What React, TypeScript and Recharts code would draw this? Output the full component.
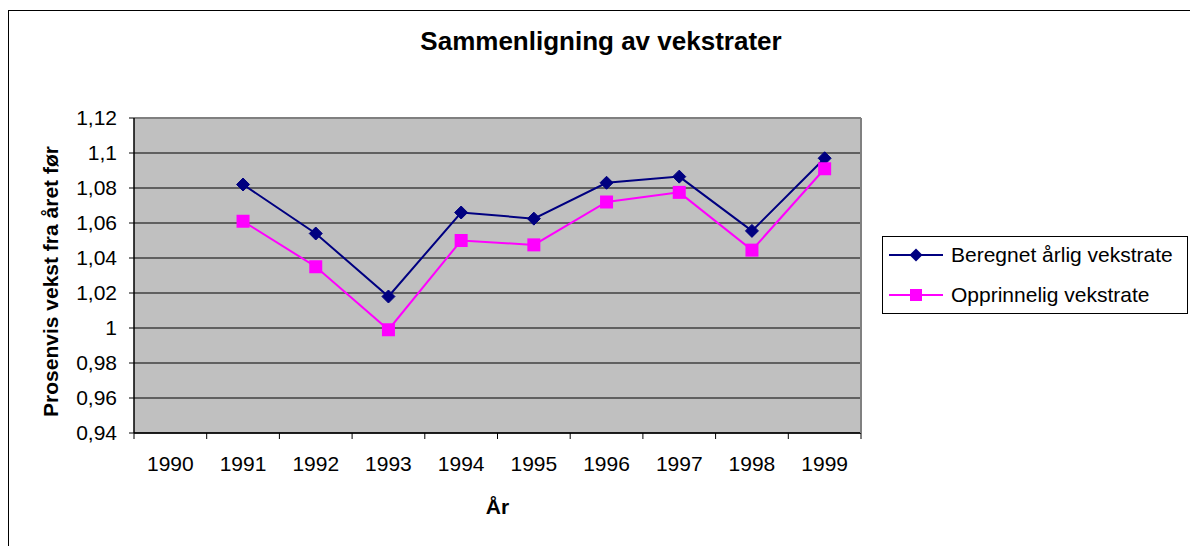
import React from 'react';
import { LineChart, Line, XAxis, YAxis, CartesianGrid, Legend, ReferenceLine } from 'recharts';

const years = ['1990', '1991', '1992', '1993', '1994', '1995', '1996', '1997', '1998', '1999'];
const beregnet: (number | null)[] = [null, 1.082, 1.054, 1.018, 1.066, 1.0625, 1.083, 1.0865, 1.0555, 1.097];
const opprinnelig: (number | null)[] = [null, 1.061, 1.035, 0.999, 1.05, 1.0475, 1.072, 1.0775, 1.0445, 1.091];
const yTicks = [0.94, 0.96, 0.98, 1.0, 1.02, 1.04, 1.06, 1.08, 1.1, 1.12];
const seriesNames = ['Beregnet årlig vekstrate', 'Opprinnelig vekstrate'];
const titleText = 'Sammenligning av vekstrater';
const yLabelText = 'Prosenvis vekst fra året før';
const xLabelText = 'År';

const data = years.map((y, i) => ({ year: y, beregnet: beregnet[i], opprinnelig: opprinnelig[i] }));

const FONT = 'Arial, "Liberation Sans", Helvetica, sans-serif';
const BLUE = '#000080';
const PINK = '#FF00FF';
const X_TICK_SIZE = 5;
const X_TICK_MARGIN = 18;

const fmt = (v: number) => String(parseFloat(v.toFixed(2))).replace('.', ',');

const diamondPath = (cx: number, cy: number, r: number) =>
  `M${cx},${cy - r}L${cx + r},${cy}L${cx},${cy + r}L${cx - r},${cy}Z`;

const DiamondDot = (props: any) => {
  const { cx, cy, index } = props;
  if (cx == null || cy == null || isNaN(cx) || isNaN(cy)) return <g key={`bd-${index}`} />;
  return <path key={`bd-${index}`} d={diamondPath(cx, cy, 6.5)} fill={BLUE} stroke={BLUE} strokeWidth={1} />;
};

const SquareDot = (props: any) => {
  const { cx, cy, index } = props;
  if (cx == null || cy == null || isNaN(cx) || isNaN(cy)) return <g key={`pd-${index}`} />;
  return <rect key={`pd-${index}`} x={cx - 6.5} y={cy - 6.5} width={13} height={13} fill={PINK} stroke={PINK} strokeWidth={0} />;
};

const XTick = (props: any) => {
  const { x, y, payload, index } = props;
  const half = payload && typeof payload.offset === 'number' ? payload.offset : 0;
  const axisY = y - X_TICK_SIZE - X_TICK_MARGIN;
  const isLast = index === years.length - 1;
  return (
    <g>
      <line x1={x - half} x2={x - half} y1={axisY} y2={axisY + 6} stroke="#000" strokeWidth={1} />
      {isLast && <line x1={x + half} x2={x + half} y1={axisY} y2={axisY + 6} stroke="#000" strokeWidth={1} />}
      <text x={x} y={y} dy="0.71em" textAnchor="middle" fontFamily={FONT} fontSize={21} fill="#000">
        {payload.value}
      </text>
    </g>
  );
};

const renderLegend = (props: any) => {
  const payload = props.payload || [];
  return (
    <div
      style={{
        position: 'relative',
        width: 304,
        height: 76,
        border: '1px solid #000',
        background: '#fff',
        fontFamily: FONT,
        fontSize: 21,
        color: '#000',
      }}
    >
      {payload.map((entry: any, i: number) => (
        <div
          key={entry.value}
          style={{ position: 'absolute', left: 0, top: i === 0 ? 3 : 43, height: 30, display: 'flex', alignItems: 'center', whiteSpace: 'nowrap' }}
        >
          <svg width={68} height={30} style={{ display: 'block' }}>
            <line x1={6} x2={60} y1={15} y2={15} stroke={entry.color} strokeWidth={2} />
            {i === 0 ? (
              <path d={diamondPath(33, 15, 6.5)} fill={entry.color} />
            ) : (
              <rect x={27} y={9} width={12} height={12} fill={entry.color} />
            )}
          </svg>
          <span style={{ lineHeight: '30px' }}>{entry.value}</span>
        </div>
      ))}
    </div>
  );
};

const YLabel = (props: any) => {
  const vb = props.viewBox || { x: 0, y: 0, width: 0, height: 0 };
  const x = vb.x + 11;
  const y = vb.y + vb.height / 2 + 6;
  return (
    <text
      x={x}
      y={y}
      transform={`rotate(-90 ${x} ${y})`}
      textAnchor="middle"
      dominantBaseline="central"
      fontFamily={FONT}
      fontWeight="bold"
      fontSize={21}
      fill="#000"
    >
      {yLabelText}
    </text>
  );
};

export default function App() {
  return (
    <div style={{ position: 'fixed', left: 0, top: 0, width: 1190, height: 546, overflow: 'hidden', background: '#fff' }}>
      <div
        style={{
          position: 'absolute',
          left: 8,
          top: 10,
          width: 1220,
          height: 600,
          borderTop: '1px solid #000',
          borderLeft: '1px solid #000',
        }}
      />
      <div
        style={{
          position: 'absolute',
          left: 8,
          width: 1186,
          top: 28,
          textAlign: 'center',
          fontFamily: FONT,
          fontWeight: 'bold',
          fontSize: 26,
          lineHeight: '26px',
          color: '#000',
        }}
      >
        {titleText}
      </div>
      <div style={{ position: 'absolute', left: 9, top: 11 }}>
        <LineChart width={1181} height={535} data={data} margin={{ top: 107, right: 328, bottom: 53, left: 30 }}>
          <CartesianGrid horizontal vertical={false} stroke="#000" strokeWidth={1} fill="#C0C0C0" fillOpacity={1} />
          <XAxis
            dataKey="year"
            scale="band"
            height={60}
            tickLine={false}
            axisLine={{ stroke: '#000', strokeWidth: 1.5 }}
            tickSize={X_TICK_SIZE}
            tickMargin={X_TICK_MARGIN}
            tick={XTick}
            interval={0}
            label={{ value: xLabelText, position: 'bottom', offset: 6, fontFamily: FONT, fontSize: 21, fontWeight: 'bold', fill: '#000' }}
          />
          <YAxis
            width={95}
            domain={[0.94, 1.12]}
            ticks={yTicks}
            allowDataOverflow
            interval={0}
            tickFormatter={fmt}
            tickSize={5}
            tickMargin={12}
            tickLine={{ stroke: '#000' }}
            axisLine={{ stroke: '#000', strokeWidth: 1.5 }}
            tick={{ fontFamily: FONT, fontSize: 21, fill: '#000' }}
            label={YLabel}
          />
          <YAxis
            yAxisId="frame"
            orientation="right"
            width={1}
            domain={[0.94, 1.12]}
            tick={false}
            tickLine={false}
            axisLine={{ stroke: '#808080', strokeWidth: 2 }}
          />
          <ReferenceLine y={1.12} stroke="#808080" strokeWidth={2} />
          <Legend
            layout="vertical"
            align="center"
            verticalAlign="middle"
            content={renderLegend}
            wrapperStyle={{ left: 873, top: 225, width: 306, height: 78 }}
          />
          <Line
            type="linear"
            dataKey="beregnet"
            name={seriesNames[0]}
            stroke={BLUE}
            strokeWidth={2}
            dot={DiamondDot}
            activeDot={false}
            isAnimationActive={false}
            connectNulls={false}
          />
          <Line
            type="linear"
            dataKey="opprinnelig"
            name={seriesNames[1]}
            stroke={PINK}
            strokeWidth={2}
            dot={SquareDot}
            activeDot={false}
            isAnimationActive={false}
            connectNulls={false}
          />
        </LineChart>
      </div>
    </div>
  );
}
